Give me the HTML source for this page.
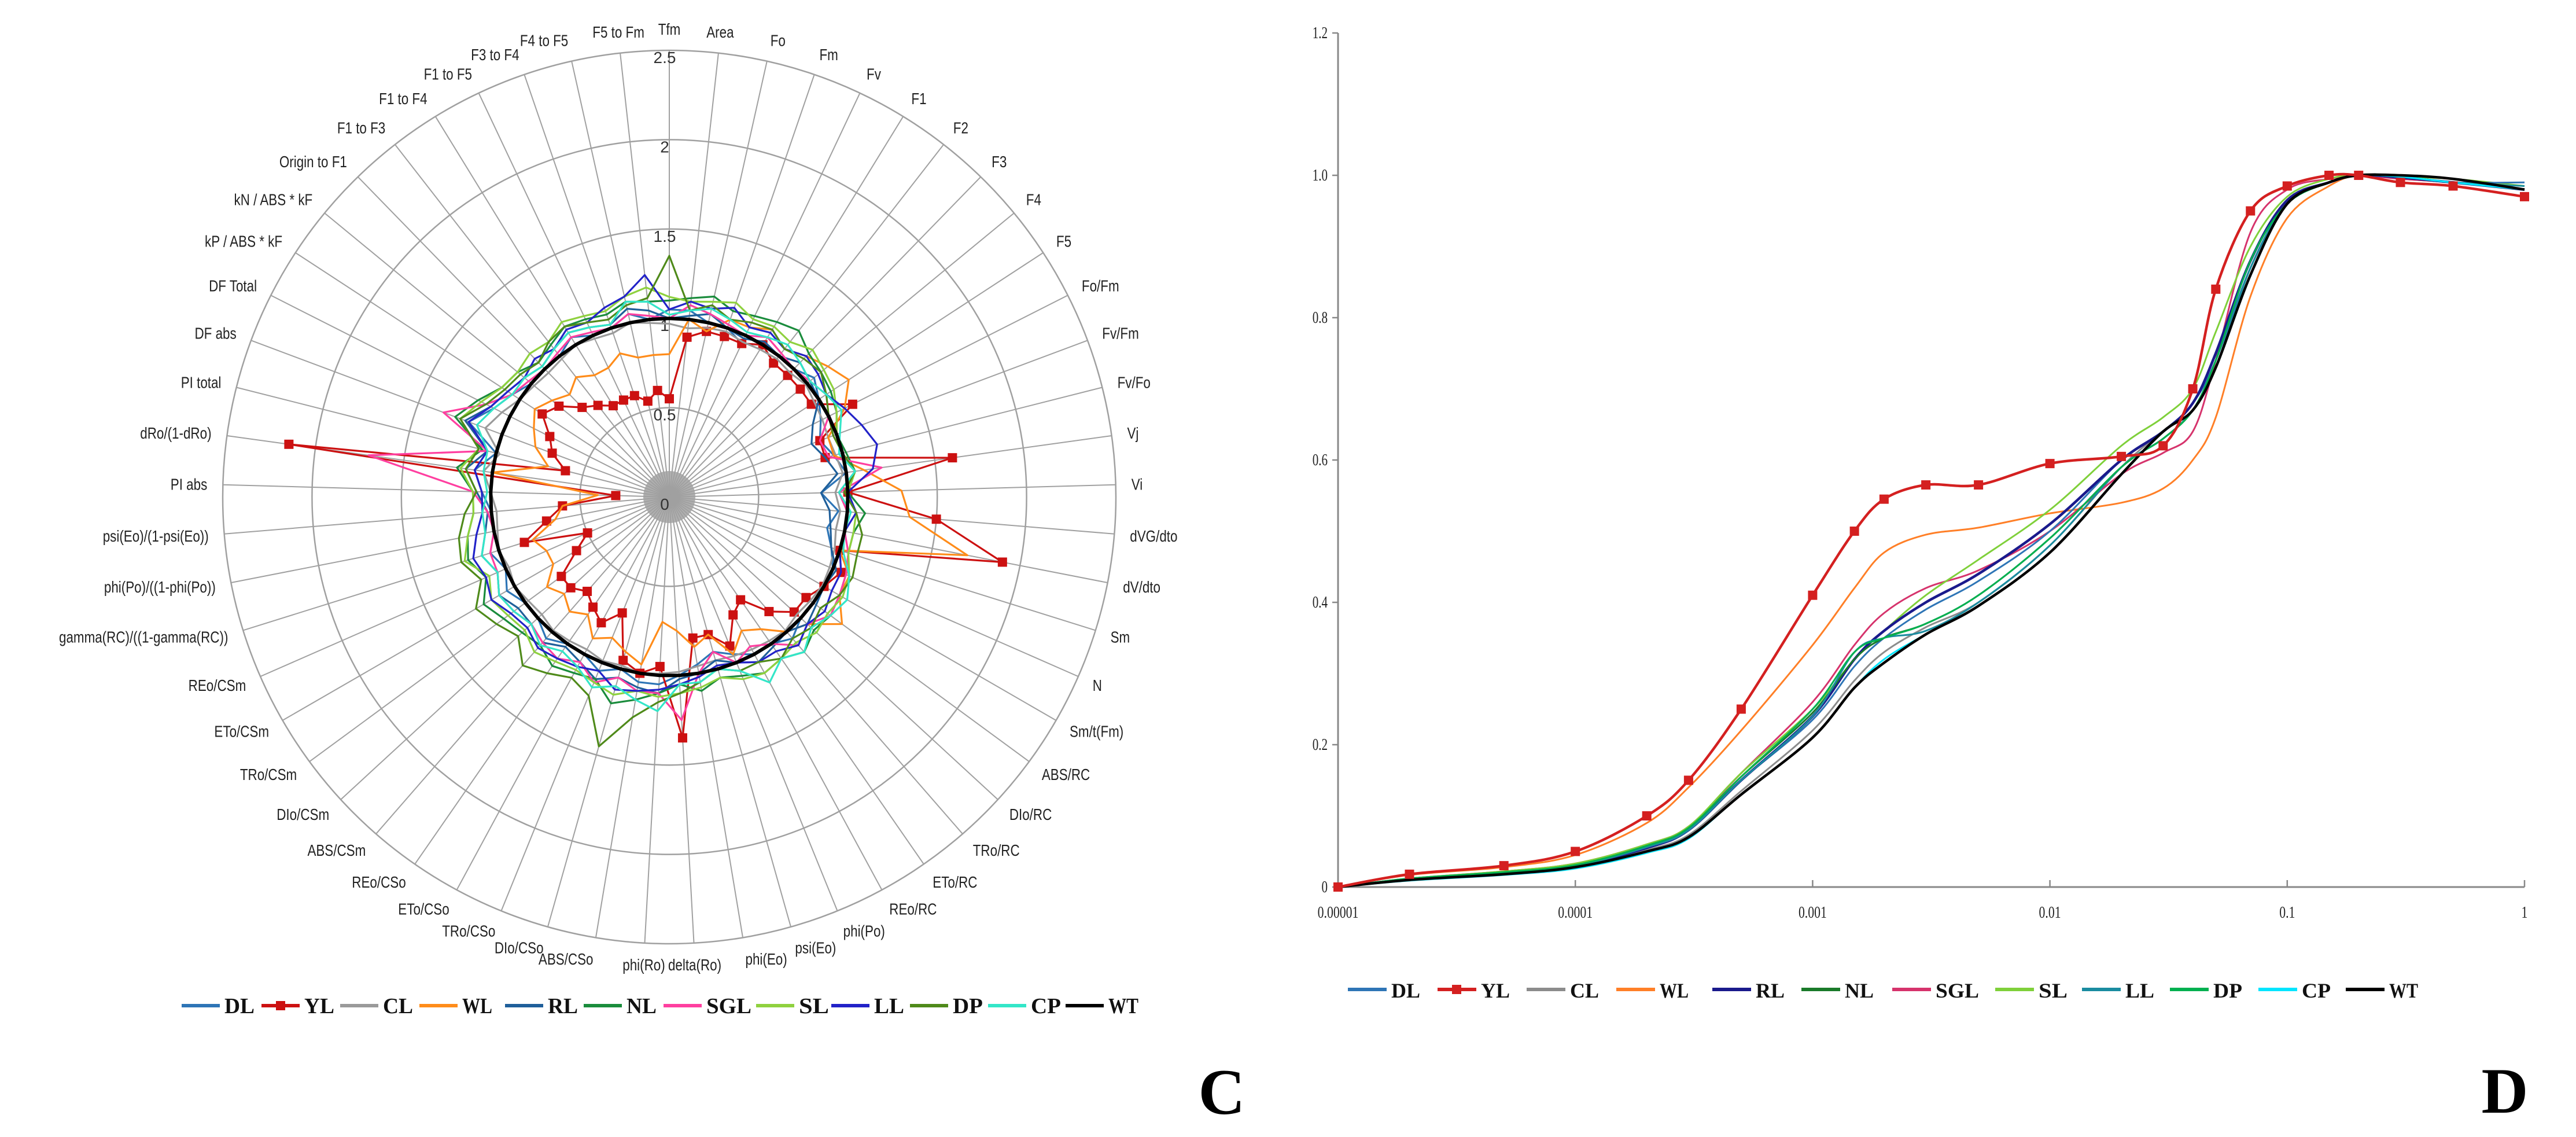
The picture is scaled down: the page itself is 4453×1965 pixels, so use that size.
<!DOCTYPE html>
<html><head><meta charset="utf-8"><style>
html,body{margin:0;padding:0;background:#fff;}
svg{display:block;}
</style></head><body>
<svg id="fig" width="4453" height="1965" viewBox="0 0 4453 1965" xmlns="http://www.w3.org/2000/svg">
<rect width="4453" height="1965" fill="#fff"/>
<g id="radar"></g>
<g id="line"></g>
<text x="2112" y="1925" font-family="Liberation Serif, serif" font-weight="bold" font-size="112" text-anchor="middle">C</text>
<text x="4330" y="1923" font-family="Liberation Serif, serif" font-weight="bold" font-size="112" text-anchor="middle">D</text>
</svg>
<script>
// ---------- Radar data ----------
const radarAxes = ["Tfm","Area","Fo","Fm","Fv","F1","F2","F3","F4","F5","Fo/Fm","Fv/Fm","Fv/Fo","Vj","Vi","dVG/dto","dV/dto","Sm","N","Sm/t(Fm)","ABS/RC","DIo/RC","TRo/RC","ETo/RC","REo/RC","phi(Po)","psi(Eo)","phi(Eo)","delta(Ro)","phi(Ro)","ABS/CSo","DIo/CSo","TRo/CSo","ETo/CSo","REo/CSo","ABS/CSm","DIo/CSm","TRo/CSm","ETo/CSm","REo/CSm","gamma(RC)/((1-gamma(RC))","phi(Po)/((1-phi(Po))","psi(Eo)/(1-psi(Eo))","PI abs","dRo/(1-dRo)","PI total","DF abs","DF Total","kP / ABS * kF","kN / ABS * kF","Origin to F1","F1 to F3","F1 to F4","F1 to F5","F3 to F4","F4 to F5","F5 to Fm"];
const radarTicks = ["0","0.5","1","1.5","2","2.5"];
const radarSeriesNames = ["DL","YL","CL","WL","RL","NL","SGL","SL","LL","DP","CP","WT"];
const rDL = [1.05,1.05,1.0,1.0,.95,1.0,1.0,1.0,1.05,1.0,.95,.9,.95,1.0,.85,.95,.9,.95,1.0,1.0,1.0,1.0,1.05,1.0,1.0,.95,.9,.95,1.0,1.05,1.05,1.0,1.05,1.0,1.0,1.05,1.0,1.0,1.05,1.0,1.05,1.0,1.0,1.05,1.1,1.0,1.2,1.1,1.05,1.0,1.0,1.0,1.05,1.0,1.0,1.05,1.0];
const rYL = [.55,.9,.95,.95,.95,1.0,.95,.95,.95,.95,1.15,.9,.9,1.6,1.0,1.5,1.9,1.0,1.05,1.0,.95,.95,.85,.7,.75,.9,.8,.8,1.35,.95,1.0,.95,.7,.8,.75,.7,.75,.75,.6,.5,.85,.7,.6,.3,2.15,.6,.7,.75,.85,.8,.7,.65,.6,.6,.6,.55,.6];
const rCL = [.97,.95,.97,.98,.96,.97,.98,.97,.99,.97,.96,.95,.96,.98,.93,.96,.95,.97,.98,.99,.98,.97,.99,.98,.97,.96,.95,.96,.98,.99,1.0,.98,.99,.97,.98,.99,.97,.98,1.0,.98,1.0,.98,.97,1.0,1.05,.98,1.1,1.05,1.0,.98,.97,.98,1.0,.98,.97,1.0,.98];
const rWL = [.8,1.0,.95,1.05,1.05,1.1,1.05,1.1,1.15,1.2,1.1,.95,.95,1.1,1.3,1.35,1.7,1.0,1.1,1.1,1.2,1.05,1.0,.9,.85,.95,.8,.85,.75,.7,.95,.9,.85,.9,.8,.85,.8,.85,.75,.75,.8,.65,.6,.4,1.0,.7,.8,.85,.9,.85,.8,.85,.8,.8,.85,.8,.8];
const rRL = [1.0,1.02,1.05,1.0,.98,1.02,1.0,1.05,1.02,1.0,.9,.85,.9,.95,.85,.9,.92,.95,1.02,1.0,1.02,1.05,1.0,1.02,1.05,1.0,.95,1.0,1.02,1.1,1.08,1.05,1.1,1.05,1.02,1.08,1.05,1.05,1.1,1.05,1.1,1.05,1.02,1.08,1.15,1.05,1.22,1.12,1.08,1.05,1.02,1.05,1.08,1.05,1.02,1.08,1.05];
const rNL = [1.1,1.12,1.15,1.1,1.12,1.15,1.18,1.12,1.1,1.08,1.05,1.0,1.02,1.05,1.0,1.1,1.05,1.05,1.08,1.1,1.12,1.1,1.15,1.1,1.12,1.08,1.05,1.1,1.05,1.1,1.15,1.2,1.1,1.12,1.15,1.1,1.12,1.15,1.2,1.12,1.18,1.15,1.1,1.1,1.2,1.08,1.28,1.2,1.12,1.1,1.05,1.08,1.12,1.1,1.08,1.12,1.1];
const rSGL = [1.0,1.08,1.05,1.02,1.0,1.05,1.02,1.0,1.02,1.05,1.0,.9,.92,1.2,.95,1.0,1.0,1.05,1.08,1.1,1.12,1.05,1.1,1.0,.95,1.0,.9,1.0,1.25,1.1,1.1,1.05,1.12,1.05,1.1,1.08,1.05,1.08,1.1,1.05,1.05,1.0,1.02,1.1,1.7,1.05,1.35,1.15,1.05,1.02,1.0,1.02,1.05,1.02,1.0,1.05,1.02];
const rSL = [1.12,1.1,1.12,1.15,1.1,1.12,1.1,1.15,1.12,1.1,1.05,1.0,1.0,1.05,1.0,1.05,1.05,1.05,1.1,1.12,1.1,1.12,1.08,1.1,1.12,1.1,1.05,1.08,1.1,1.12,1.1,1.15,1.12,1.1,1.12,1.15,1.1,1.12,1.15,1.1,1.2,1.15,1.1,1.1,1.18,1.1,1.25,1.18,1.12,1.1,1.12,1.1,1.15,1.12,1.1,1.15,1.18];
const rLL = [1.05,1.1,1.08,1.12,1.05,1.08,1.05,1.1,1.08,1.05,1.1,1.15,1.2,1.15,1.0,1.05,1.0,1.0,1.05,1.05,1.08,1.05,1.1,1.05,1.05,1.0,.98,1.02,1.05,1.08,1.1,1.12,1.05,1.08,1.1,1.12,1.08,1.1,1.15,1.12,1.15,1.1,1.05,1.05,1.1,1.05,1.2,1.12,1.08,1.05,1.08,1.05,1.1,1.08,1.12,1.15,1.25];
const rDP = [1.35,1.05,1.1,1.05,1.08,1.1,1.05,1.08,1.1,1.05,1.0,.98,1.0,1.05,.98,1.05,1.1,1.1,1.12,1.1,1.05,1.08,1.05,1.1,1.05,1.05,1.0,1.05,1.1,1.15,1.25,1.45,1.2,1.15,1.2,1.25,1.15,1.2,1.25,1.15,1.22,1.2,1.15,1.08,1.15,1.1,1.25,1.15,1.1,1.08,1.05,1.1,1.12,1.08,1.05,1.1,1.12];
const rCP = [1.02,1.05,1.08,1.05,1.02,1.05,1.08,1.05,1.02,1.05,1.08,1.02,.98,1.05,.95,1.02,1.0,1.02,1.1,1.15,1.12,1.08,1.15,1.1,1.18,1.05,1.0,1.05,1.05,1.2,1.15,1.1,1.15,1.08,1.05,1.1,1.05,1.08,1.1,1.05,1.1,1.05,1.05,1.02,1.05,1.05,1.15,1.1,1.05,1.05,1.02,1.05,1.08,1.05,1.02,1.12,1.1];
const rWT = [1,1,1,1,1,1,1,1,1,1,1,1,1,1,1,1,1,1,1,1,1,1,1,1,1,1,1,1,1,1,1,1,1,1,1,1,1,1,1,1,1,1,1,1,1,1,1,1,1,1,1,1,1,1,1,1,1];

// ---------- Line chart data ----------
const lineX = [1e-5,2e-5,5e-5,1e-4,2e-4,3e-4,5e-4,1e-3,1.5e-3,2e-3,3e-3,5e-3,1e-2,2e-2,3e-2,4e-2,5e-2,7e-2,0.1,0.15,0.2,0.3,0.5,1];
const lineSeriesNames = ["DL","YL","CL","WL","RL","NL","SGL","SL","LL","DP","CP","WT"];
const lDL = [0,.011,.02,.03,.055,.08,.15,.235,.31,.35,.39,.43,.5,.6,.64,.68,.74,.87,.96,.99,1,.997,.99,.99];
const lYL = [0,.018,.03,.05,.1,.15,.25,.41,.5,.545,.565,.565,.595,.605,.62,.7,.84,.95,.985,1.0,1.0,.99,.985,.97];
const lCL = [0,.01,.019,.028,.052,.073,.135,.22,.29,.33,.365,.40,.48,.59,.64,.67,.73,.87,.96,.99,1,.998,.99,.98];
const lWL = [0,.017,.028,.045,.09,.14,.22,.34,.42,.47,.495,.505,.525,.54,.56,.6,.66,.83,.94,.985,1.0,.995,.99,.98];
const lRL = [0,.011,.02,.03,.055,.08,.15,.24,.32,.36,.40,.44,.51,.6,.64,.68,.75,.88,.965,.99,1,.997,.99,.98];
const lNL = [0,.011,.02,.03,.058,.083,.155,.245,.32,.35,.37,.41,.49,.59,.63,.67,.74,.88,.96,.99,1,.998,.99,.98];
const lSGL = [0,.012,.022,.033,.06,.085,.16,.26,.34,.385,.42,.445,.5,.58,.61,.64,.74,.92,.98,.995,1,.995,.99,.98];
const lSL = [0,.012,.022,.033,.06,.085,.16,.25,.32,.36,.41,.46,.53,.62,.66,.7,.78,.9,.97,.995,1,.998,.995,.985];
const lLL = [0,.011,.02,.03,.056,.08,.15,.24,.33,.35,.36,.40,.48,.59,.63,.67,.73,.87,.96,.99,1,.998,.99,.985];
const lDP = [0,.012,.021,.031,.058,.083,.155,.25,.33,.35,.37,.41,.49,.59,.63,.67,.74,.88,.96,.99,1,.998,.99,.98];
const lCP = [0,.009,.017,.026,.048,.068,.13,.21,.28,.32,.355,.395,.47,.58,.64,.67,.73,.86,.96,.99,1,.998,.99,.98];
const lWT = [0,.01,.018,.028,.05,.07,.13,.21,.28,.315,.355,.395,.47,.58,.64,.67,.73,.86,.96,.99,1.0,1.0,.995,.98];
const yTickLabels = ["0","0.2","0.4","0.6","0.8","1.0","1.2"];
const xTickLabels = ["0.00001","0.0001","0.001","0.01","0.1","1"];

const NS="http://www.w3.org/2000/svg";
function mk(tag,attrs,parent){const e=document.createElementNS(NS,tag);for(const k in attrs)e.setAttribute(k,attrs[k]);parent.appendChild(e);return e;}
function condense(t,f){try{const w=t.getComputedTextLength();if(w>0){t.setAttribute('textLength',(w*f).toFixed(1));t.setAttribute('lengthAdjust','spacingAndGlyphs');}}catch(e){}}

// ---------- Radar ----------
const radar=document.getElementById('radar');
const cx=1157, cy=859, R=772, rMax=2.5;
const rColors=["#2e75b6","#cc1111","#9a9a9a","#ff8c1a","#1f5f9a","#1a8c3c","#ff3fa0","#8fd13f","#2222c8","#4f8a1a","#33e6c8","#000000"];
const rData=[rDL,rYL,rCL,rWL,rRL,rNL,rSGL,rSL,rLL,rDP,rCP,rWT];
function rAng(i){return i*2*Math.PI/radarAxes.length;}
function rPt(i,v){const a=rAng(i),r=v/rMax*R;return [cx+r*Math.sin(a),cy-r*Math.cos(a)];}
for(let k=1;k<radarTicks.length;k++){
  const ring=mk('circle',{cx:cx,cy:cy,r:parseFloat(radarTicks[k])/rMax*R,fill:'none',stroke:'#a0a0a0','stroke-width':2.5},radar);
  
  
}
mk('circle',{cx:cx,cy:cy,r:45,fill:'#b0b0b0'},radar);
radarAxes.forEach((lab,i)=>{
  const p=rPt(i,rMax);
  const sp=mk('line',{x1:cx,y1:cy,x2:p[0],y2:p[1],stroke:'#a0a0a0','stroke-width':2},radar);
  
  
  const a=rAng(i),s=Math.sin(a),c=Math.cos(a);
  const q=rPt(i,rMax*1.035);
  let anchor=Math.abs(s)<0.12?'middle':(s>0?'start':'end');
  const t=mk('text',{x:q[0],y:q[1]+10-c*10,'font-family':'Liberation Sans, sans-serif','font-size':28,fill:'#222','text-anchor':anchor},radar);
  t.textContent=lab;
  
  
  condense(t,0.8);
});
radarTicks.forEach((lab,k)=>{
  const v=parseFloat(lab);
  const t=mk('text',{x:cx-8,y:cy-v/rMax*R+22,'font-family':'Liberation Sans, sans-serif','font-size':28,fill:'#333','text-anchor':'middle'},radar);
  t.textContent=lab;
  
  
});
rData.forEach((arr,s)=>{
  const pts=arr.map((v,i)=>rPt(i,v));
  const pl=mk('polygon',{points:pts.map(p=>p[0].toFixed(1)+','+p[1].toFixed(1)).join(' '),fill:'none',stroke:rColors[s],'stroke-width':s===11?6:3.2,'stroke-linejoin':'round'},radar);
  
  
  if(s===1){pts.forEach(p=>{
    const m=mk('rect',{x:p[0]-8,y:p[1]-8,width:16,height:16,fill:'#cc1111'},radar);
    
    
  });}
});
const legC=[314,452,588,725,873,1009,1147,1307,1437,1573,1708,1842];
radarSeriesNames.forEach((n,s)=>{
  const g=mk('g',{},radar);
  
  
  mk('line',{x1:legC[s],y1:1738,x2:legC[s]+66,y2:1738,stroke:rColors[s],'stroke-width':6},g);
  if(s===1)mk('rect',{x:legC[s]+25,y:1730,width:16,height:16,fill:'#cc1111'},g);
  const t=mk('text',{x:legC[s]+74,y:1751,'font-family':'Liberation Serif, serif','font-weight':'bold','font-size':38,fill:'#111',textLength:n.length*26,lengthAdjust:'spacingAndGlyphs'},g);
  t.textContent=n;
});

// ---------- Line chart ----------
const line=document.getElementById('line');
const x0=2313,x1=4364,y0=1533,y1=57;
function xs(v){return x0+(Math.log10(v)+5)/5*(x1-x0);}
function ys(v){return y0-v/1.2*(y0-y1);}
const lColors=["#2e75b6","#d42020","#8c8c8c","#ff7f27","#1a1a8c","#1a7a2a","#d6336c","#7fd03a","#1a8ca0","#00b050","#00e5ff","#000000"];
const lData=[lDL,lYL,lCL,lWL,lRL,lNL,lSGL,lSL,lLL,lDP,lCP,lWT];
const ax=mk('path',{d:`M${x0},${y1} L${x0},${y0} L${x1},${y0}`,fill:'none',stroke:'#888','stroke-width':3},line);


yTickLabels.forEach(l=>{
  const y=ys(parseFloat(l));
  mk('line',{x1:x0-10,y1:y,x2:x0,y2:y,stroke:'#888','stroke-width':2.5},line);
  const t=mk('text',{x:x0-18,y:y+9,'font-family':'Liberation Serif, serif','font-size':28,fill:'#222','text-anchor':'end'},line);
  t.textContent=l;
  
  
  condense(t,0.75);
});
xTickLabels.forEach(l=>{
  const x=xs(parseFloat(l));
  mk('line',{x1:x,y1:y0,x2:x,y2:y0-12,stroke:'#888','stroke-width':2.5},line);
  const t=mk('text',{x:x,y:1586,'font-family':'Liberation Serif, serif','font-size':29,fill:'#222','text-anchor':'middle'},line);
  t.textContent=l;
  
  
  condense(t,0.75);
});
function smooth(pts){
  let d=`M${pts[0][0].toFixed(1)},${pts[0][1].toFixed(1)}`;
  for(let i=0;i<pts.length-1;i++){
    const p0=pts[Math.max(0,i-1)],p1=pts[i],p2=pts[i+1],p3=pts[Math.min(pts.length-1,i+2)];
    const c1=[p1[0]+(p2[0]-p0[0])/6,p1[1]+(p2[1]-p0[1])/6];
    const c2=[p2[0]-(p3[0]-p1[0])/6,p2[1]-(p3[1]-p1[1])/6];
    d+=` C${c1[0].toFixed(1)},${c1[1].toFixed(1)} ${c2[0].toFixed(1)},${c2[1].toFixed(1)} ${p2[0].toFixed(1)},${p2[1].toFixed(1)}`;
  }
  return d;
}
const order=[2,3,6,7,0,4,5,8,9,10,11,1];
order.forEach(s=>{
  const pts=lineX.map((x,i)=>[xs(x),ys(lData[s][i])]);
  const p=mk('path',{d:smooth(pts),fill:'none',stroke:lColors[s],'stroke-width':(s===11||s===1||s===4)?4.5:3},line);
  
  
  if(s===1){pts.forEach(q=>{
    const m=mk('rect',{x:q[0]-8,y:q[1]-8,width:16,height:16,fill:'#d42020'},line);
    
    
  });}
});
const legD=[2330,2485,2639,2794,2960,3114,3271,3449,3599,3751,3904,4055];
lineSeriesNames.forEach((n,s)=>{
  const g=mk('g',{},line);
  
  
  mk('line',{x1:legD[s],y1:1710,x2:legD[s]+67,y2:1710,stroke:lColors[s],'stroke-width':6},g);
  if(s===1)mk('rect',{x:legD[s]+25,y:1702,width:16,height:16,fill:'#d42020'},g);
  const t=mk('text',{x:legD[s]+75,y:1724,'font-family':'Liberation Serif, serif','font-weight':'bold','font-size':36,fill:'#111',textLength:n.length*25,lengthAdjust:'spacingAndGlyphs'},g);
  t.textContent=n;
});
</script>
</body></html>
